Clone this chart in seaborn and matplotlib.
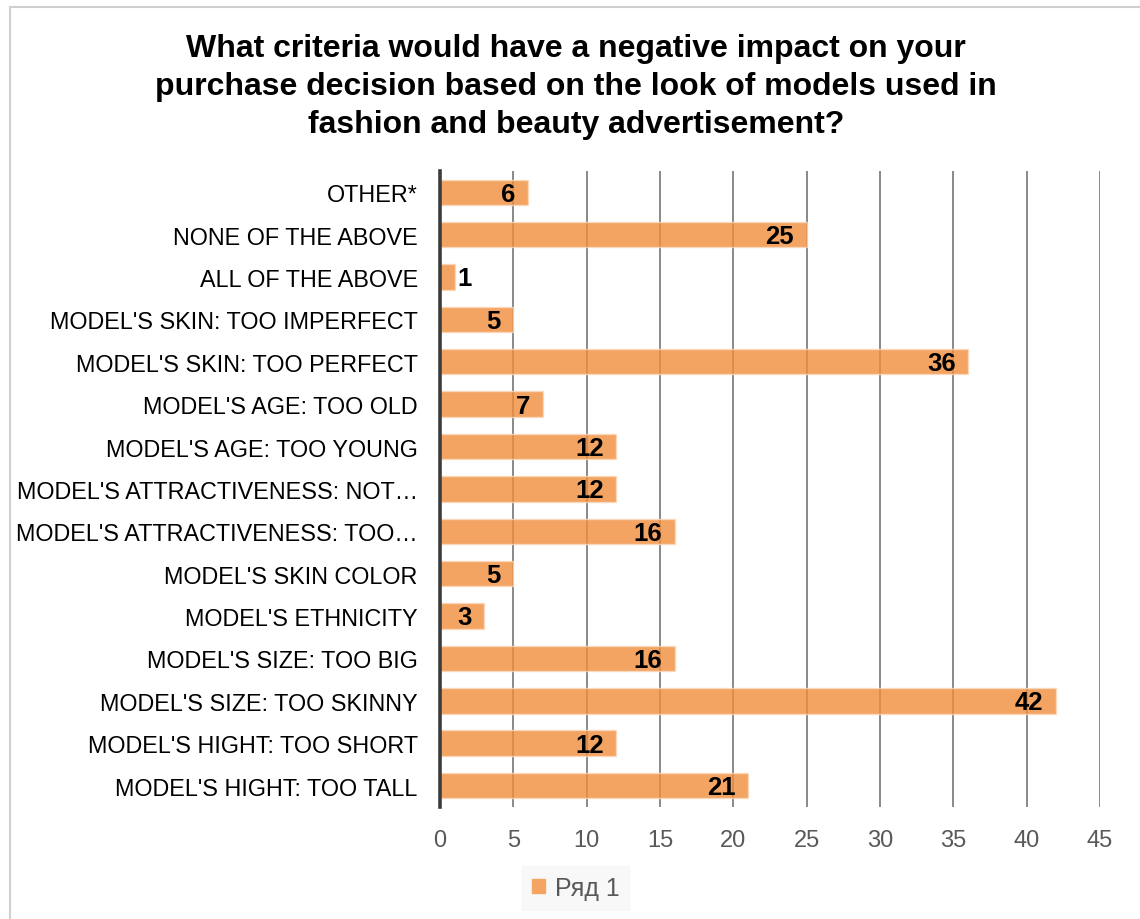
import matplotlib
matplotlib.use("Agg")
import matplotlib.pyplot as plt
import matplotlib.patches as mpatches
import seaborn as sns
import pandas as pd

categories = [
    "OTHER*",
    "NONE OF THE ABOVE",
    "ALL OF THE ABOVE",
    "MODEL'S SKIN: TOO IMPERFECT",
    "MODEL'S SKIN: TOO PERFECT",
    "MODEL'S AGE: TOO OLD",
    "MODEL'S AGE: TOO YOUNG",
    "MODEL'S ATTRACTIVENESS: NOT\u2026",
    "MODEL'S ATTRACTIVENESS: TOO\u2026",
    "MODEL'S SKIN COLOR",
    "MODEL'S ETHNICITY",
    "MODEL'S SIZE: TOO BIG",
    "MODEL'S SIZE: TOO SKINNY",
    "MODEL'S HIGHT: TOO SHORT",
    "MODEL'S HIGHT: TOO TALL",
]
counts = [6, 25, 1, 5, 36, 7, 12, 12, 16, 5, 3, 16, 42, 12, 21]
x_ticks = [0, 5, 10, 15, 20, 25, 30, 35, 40, 45]
series_name = "Ряд 1"
title = ("What criteria would have a negative impact on your\n"
         "purchase decision based on the look of models used in\n"
         "fashion and beauty advertisement?")

sns.set_style("white")
plt.rcParams["font.family"] = ["Liberation Sans", "DejaVu Sans"]

df = pd.DataFrame({"category": categories, "count": counts})

fig = plt.figure(figsize=(11.4, 9.2), dpi=100)
ax = fig.add_axes([0.386, 0.122, 0.579, 0.691])

bar_rgb = (242 / 255, 142 / 255, 59 / 255)
sns.barplot(data=df, x="count", y="category", order=categories,
            color=bar_rgb, saturation=1, width=0.6, ax=ax, zorder=2,
            edgecolor="#fbd9bd", linewidth=1)
for p in ax.patches:
    p.set_alpha(0.8)

ax.set_xlim(0, 45)
ax.set_ylim(len(categories) - 0.5, -0.5)
ax.set_xticks(x_ticks)
ax.set_xlabel("")
ax.set_ylabel("")

ax.xaxis.grid(True, color="#6a6a6a", linewidth=1.1, zorder=0)
ax.yaxis.grid(False)
ax.set_axisbelow(True)
for side in ["top", "right", "bottom"]:
    ax.spines[side].set_visible(False)
ax.spines["left"].set_color("#3c3c3c")
ax.spines["left"].set_linewidth(2.6)
ax.spines["left"].set_zorder(3)

ax.tick_params(axis="y", length=0, pad=16, labelsize=16.8, labelcolor="black")
ax.tick_params(axis="x", length=0, pad=16, labelsize=17, labelcolor="#595959")

# value labels: inside the bar end where they fit, outside otherwise
for i, v in enumerate(counts):
    if v >= 3:
        ax.annotate(str(v), xy=(v, i), xytext=(-9, -1), textcoords="offset points",
                    ha="right", va="center", fontsize=18.5, fontweight="bold",
                    color="black", zorder=4)
    else:
        ax.annotate(str(v), xy=(v, i), xytext=(2, -1), textcoords="offset points",
                    ha="left", va="center", fontsize=18.5, fontweight="bold",
                    color="black", zorder=4)

fig.text(0.505, 0.9055, title, ha="center", va="center", fontsize=23,
         fontweight="bold", color="black", linespacing=1.34)

handle = mpatches.Patch(facecolor="#f5a562", edgecolor="#f5a562", label=series_name)
leg = fig.legend(handles=[handle], loc="center", bbox_to_anchor=(0.505, 0.034),
                 frameon=True, fontsize=18, handlelength=0.5, handleheight=0.5,
                 handletextpad=0.4, borderpad=0.4, fancybox=False)
leg.get_frame().set_facecolor("#f7f7f7")
leg.get_frame().set_edgecolor("#f7f7f7")
for t in leg.get_texts():
    t.set_color("#595959")

# outer chart frame
fig.patches.append(mpatches.Rectangle((10 / 1140, -0.01), 1.02, 1 - 8 / 920 + 0.01,
                                      transform=fig.transFigure, fill=False,
                                      edgecolor="#d0d0d0", linewidth=1.5))

fig.savefig("out.png", dpi=100)
